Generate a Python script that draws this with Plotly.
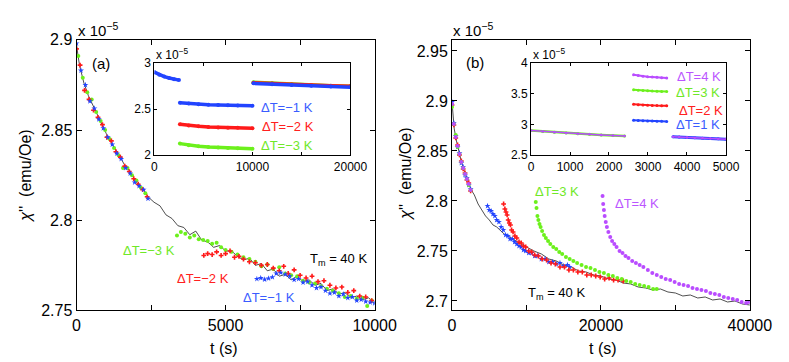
import plotly.graph_objects as go

W, H = 789, 362
FONT = "Liberation Sans, Arial, sans-serif"
BLUE, RED, GREEN, PURPLE = "#2244ff", "#ff1a1a", "#6cf01c", "#b94cff"
BLUE_T, RED_T, GREEN_T, PURPLE_T = "#3a5cff", "#ff2020", "#70e828", "#bb55ff"

# ---------------- Panel (a) main data (units of 1e-5 emu/Oe) ----------------
a_ref_t = [0, 100, 250, 400, 600, 800, 1000, 1200, 1400, 1600, 1800, 2000, 2200, 2400, 2600, 2800,
           3000, 3200, 3400, 3600, 3800, 4000, 4200, 4400, 4600, 4800, 5000, 5200, 5400, 5600, 5800,
           6000, 6200, 6400, 6600, 6800, 7000, 7200, 7400, 7600, 7800, 8000, 8200, 8400, 8600, 8800,
           9000, 9200, 9400, 9600, 9800, 10000]
a_ref_v = [2.897, 2.886, 2.876, 2.869, 2.862, 2.855, 2.848, 2.842, 2.837, 2.831, 2.827, 2.821, 2.818,
           2.813, 2.810, 2.808, 2.803, 2.801, 2.797, 2.796, 2.792, 2.794, 2.789, 2.788, 2.785, 2.786,
           2.783, 2.783, 2.780, 2.778, 2.779, 2.775, 2.776, 2.772, 2.773, 2.769, 2.770, 2.767, 2.769,
           2.766, 2.767, 2.764, 2.765, 2.761, 2.762, 2.759, 2.760, 2.757, 2.758, 2.756, 2.757, 2.754]

a_blue_t = [0, 150, 300, 450, 600, 750, 900, 1050, 1200, 1350, 1500, 1650, 1800, 1950, 2100, 2250, 2400,
            6050, 6180, 6310, 6440, 6570, 6700, 6850, 7000, 7150, 7300, 7450, 7600, 7750, 7900, 8050,
            8200, 8350, 8500, 8650, 8800, 8950, 9100, 9250, 9400, 9550, 9700, 9850, 10000]
a_blue_v = [2.898, 2.883, 2.875, 2.866, 2.862, 2.856, 2.851, 2.846, 2.842, 2.837, 2.834, 2.829, 2.826,
            2.821, 2.819, 2.817, 2.812,
            2.7675, 2.7680, 2.7672, 2.7678, 2.7685, 2.7705, 2.7710, 2.7700, 2.7690, 2.7670, 2.7675,
            2.7655, 2.7660, 2.7640, 2.7625, 2.7630, 2.7610, 2.7595, 2.7600, 2.7580, 2.7590, 2.7570,
            2.7575, 2.7555, 2.7560, 2.7550, 2.7545, 2.7540]

a_red_t = [0, 120, 270, 420, 570, 720, 870, 1020, 1170, 1320, 1470, 1620, 1770, 1920, 2070, 2220, 2370,
           4270, 4400, 4550, 4700, 4850, 5000, 5150, 5300, 5450, 5600, 5800, 6000, 6200, 6400, 6600,
           6800, 6950, 7100, 7300, 7500, 7700, 7900, 8100, 8300, 8500, 8700, 8900, 9100, 9300, 9500,
           9700, 9900]
a_red_v = [2.895, 2.886, 2.872, 2.867, 2.861, 2.857, 2.853, 2.846, 2.844, 2.838, 2.835, 2.830, 2.827,
           2.823, 2.820, 2.817, 2.813,
           2.7805, 2.7815, 2.7810, 2.7825, 2.7805, 2.7815, 2.7830, 2.7795, 2.7800, 2.7785, 2.7770,
           2.7765, 2.7750, 2.7755, 2.7735, 2.7720, 2.7745, 2.7705, 2.7725, 2.7695, 2.7680, 2.7690,
           2.7660, 2.7665, 2.7640, 2.7625, 2.7630, 2.7600, 2.7610, 2.7580, 2.7575, 2.7555]

a_green_t = [60, 210, 360, 510, 660, 810, 960, 1110, 1260, 1410, 1560, 1710, 1860, 2010, 2160, 2310,
             3370, 3500, 3650, 3800, 3950, 4100, 4250, 4400, 4550, 4700, 4850, 5000, 5200, 5400, 5600,
             5800, 6000, 6200, 6400, 6600, 6800, 7000, 7200, 7400, 7600, 7800, 8000, 8200, 8400, 8600,
             8800, 9000, 9200, 9400, 9600, 9750, 9900]
a_green_v = [2.891, 2.879, 2.871, 2.867, 2.860, 2.855, 2.850, 2.845, 2.840, 2.836, 2.829, 2.829, 2.825,
             2.822, 2.818, 2.815,
             2.7915, 2.7935, 2.7925, 2.7905, 2.7915, 2.7895, 2.7890, 2.7885, 2.7870, 2.7875, 2.7850,
             2.7835, 2.7825, 2.7810, 2.7795, 2.7785, 2.7770, 2.7745, 2.7755, 2.7730, 2.7740, 2.7705,
             2.7695, 2.7690, 2.7665, 2.7655, 2.7650, 2.7635, 2.7620, 2.7610, 2.7595, 2.7575, 2.7580,
             2.7565, 2.7570, 2.7525, 2.7555]

# ---------------- Panel (a) inset data ----------------
ia_blue1_t = [0, 500, 1000, 1500, 2000, 2500]
ia_blue1_v = [2.900, 2.872, 2.852, 2.837, 2.824, 2.814]
ia_mid_t = [2600, 3500, 4500, 5500, 6500, 7500, 8500, 10000]
ia_blue2_v = [2.569, 2.560, 2.553, 2.548, 2.544, 2.541, 2.539, 2.537]
ia_red2_v = [2.334, 2.322, 2.313, 2.306, 2.301, 2.298, 2.296, 2.293]
ia_green2_v = [2.125, 2.108, 2.096, 2.088, 2.082, 2.077, 2.074, 2.070]
ia_end_t = [10100, 12000, 14000, 16000, 18000, 20000]
ia_blue3_v = [2.779, 2.770, 2.761, 2.752, 2.745, 2.738]
ia_red3_v = [2.786, 2.776, 2.767, 2.759, 2.752, 2.747]
ia_green3_v = [2.790, 2.779, 2.769, 2.760, 2.753, 2.747]

# ---------------- Panel (b) main data ----------------
b_ref_t = [0, 300, 600, 900, 1200, 1600, 2000, 2500, 3000, 3500, 4000, 4500, 5000, 5500, 6000, 7000,
           8000, 9000, 10000, 11000, 12000, 13000, 14000, 15000, 16000, 17000, 18000, 19000, 20000,
           21000, 22000, 23000, 24000, 25000, 26000, 27000, 28000, 29000, 30000, 31000, 32000, 33000,
           34000, 35000, 36000, 37000, 38000, 39000, 40000]
b_ref_v = [2.899, 2.872, 2.860, 2.850, 2.841, 2.831, 2.822, 2.812, 2.806, 2.797, 2.791, 2.785, 2.781,
           2.776, 2.774, 2.767, 2.763, 2.758, 2.754, 2.750, 2.747, 2.742, 2.740, 2.736, 2.734, 2.730,
           2.729, 2.726, 2.725, 2.722, 2.721, 2.718, 2.717, 2.714, 2.713, 2.711, 2.712, 2.709, 2.708,
           2.705, 2.706, 2.703, 2.704, 2.701, 2.702, 2.699, 2.700, 2.697, 2.696]

b_first_t = [0, 250, 500, 750, 1000, 1250, 1500, 1750, 2000, 2250, 2500]
b_blue1_v = [2.899, 2.878, 2.865, 2.854, 2.848, 2.838, 2.834, 2.826, 2.823, 2.816, 2.812]
b_red1_v = [2.896, 2.876, 2.863, 2.856, 2.846, 2.840, 2.832, 2.828, 2.821, 2.818, 2.810]
b_green1_v = [2.894, 2.877, 2.866, 2.854, 2.847, 2.839, 2.833, 2.827, 2.822, 2.816, 2.811]
b_purple1_v = [2.897, 2.877, 2.864, 2.855, 2.847, 2.839, 2.833, 2.827, 2.822, 2.817, 2.811]

b_blue_t = [4770, 5000, 5250, 5500, 5750, 6000, 6300, 6600, 6900, 7200, 7500, 7800, 8100, 8400, 8700,
            9000, 9300, 9600, 9900, 10300, 10700, 11100, 11500, 12000, 12500, 13000, 13500, 14000,
            14500, 15000, 15500, 15800]
b_blue_v = [2.795, 2.791, 2.790, 2.787, 2.785, 2.781, 2.779, 2.774, 2.771, 2.766, 2.765, 2.762, 2.762,
            2.759, 2.757, 2.755, 2.754, 2.751, 2.750, 2.748, 2.748, 2.745, 2.745, 2.742, 2.742, 2.739,
            2.739, 2.737, 2.738, 2.735, 2.736, 2.734]

b_red_t = [6930, 7100, 7250, 7400, 7550, 7700, 7850, 8000, 8200, 8450, 8700, 9000, 9300, 9600, 9900,
           10300, 10700, 11100, 11600, 12100, 12700, 13300, 13900, 14500, 15100, 15700, 16300, 16900,
           17500, 18100, 18700, 19300, 19900, 20500, 21100, 21700, 22300, 23000]
b_red_v = [2.797, 2.792, 2.789, 2.786, 2.781, 2.778, 2.776, 2.771, 2.769, 2.765, 2.763, 2.759, 2.758,
           2.755, 2.754, 2.750, 2.749, 2.746, 2.745, 2.742, 2.741, 2.738, 2.737, 2.734, 2.734, 2.731,
           2.731, 2.729, 2.729, 2.726, 2.726, 2.725, 2.724, 2.722, 2.723, 2.721, 2.721, 2.720]

b_green_t = [11250, 11350, 11470, 11600, 11750, 11900, 12100, 12350, 12600, 12900, 13200, 13600, 14000,
             14400, 14800, 15300, 15800, 16300, 16800, 17400, 18000, 18600, 19200, 19800, 20400, 21000,
             21600, 22200, 22800, 23400, 24000, 24600, 25200, 25800, 26400, 27000, 27500]
b_green_v = [2.799, 2.793, 2.785, 2.781, 2.777, 2.774, 2.770, 2.766, 2.763, 2.760, 2.757, 2.754, 2.752,
             2.749, 2.747, 2.744, 2.742, 2.740, 2.738, 2.736, 2.734, 2.733, 2.731, 2.729, 2.728, 2.726,
             2.725, 2.723, 2.722, 2.720, 2.719, 2.717, 2.716, 2.715, 2.714, 2.712, 2.712]

b_purple_t = [20220, 20300, 20400, 20500, 20650, 20800, 21000, 21250, 21500, 21800, 22100, 22500, 22900,
              23300, 23700, 24200, 24700, 25200, 25700, 26300, 26900, 27500, 28100, 28700, 29300, 29900,
              30500, 31100, 31700, 32300, 32900, 33500, 34100, 34700, 35300, 35900, 36500, 37100, 37700,
              38300, 38900, 39500, 39900]
b_purple_v = [2.805, 2.797, 2.791, 2.785, 2.779, 2.774, 2.769, 2.764, 2.760, 2.757, 2.754, 2.750, 2.748,
              2.745, 2.743, 2.740, 2.738, 2.736, 2.734, 2.731, 2.728, 2.726, 2.724, 2.722, 2.721, 2.719,
              2.717, 2.716, 2.715, 2.713, 2.712, 2.711, 2.710, 2.708, 2.707, 2.706, 2.704, 2.703, 2.702,
              2.701, 2.699, 2.698, 2.699]

# ---------------- Panel (b) inset data ----------------
ib_first_t = [0, 300, 600, 900, 1200, 1500, 1800, 2100, 2400]
ib_first_v = [2.900, 2.886, 2.872, 2.860, 2.849, 2.838, 2.828, 2.819, 2.810]
ib_mid_t = [2630, 2750, 2870, 2990, 3110, 3230, 3350, 3480]
ib_purple2_v = [3.808, 3.795, 3.785, 3.777, 3.771, 3.766, 3.761, 3.757]
ib_green2_v = [3.566, 3.558, 3.552, 3.547, 3.543, 3.540, 3.537, 3.535]
ib_red2_v = [3.327, 3.321, 3.316, 3.312, 3.309, 3.306, 3.304, 3.302]
ib_blue2_v = [3.069, 3.064, 3.060, 3.057, 3.054, 3.052, 3.050, 3.048]
ib_end_t = [3640, 3800, 4000, 4200, 4400, 4600, 4800, 5000]
ib_end_v = [2.800, 2.794, 2.787, 2.781, 2.776, 2.771, 2.765, 2.760]

# tick values / labels
a_xticks = [0, 5000, 10000]
a_xminor = [2500, 7500]
a_yticks = [2.75, 2.8, 2.85, 2.9]
b_xticks = [0, 20000, 40000]
b_xminor = [10000, 30000]
b_yticks = [2.7, 2.75, 2.8, 2.85, 2.9, 2.95]
ia_xticks = [0, 10000, 20000]
ia_xminor = [5000, 15000]
ia_yticks = [2, 2.5, 3]
ib_xticks = [0, 1000, 2000, 3000, 4000, 5000]
ib_yticks = [2.5, 3, 3.5, 4]

fig = go.Figure()


def scat(x, y, color, ax, sym="circle", size=4):
    fig.add_trace(go.Scatter(x=x, y=y, mode="markers", xaxis=ax[0], yaxis=ax[1],
                             marker=dict(color=color, size=size, symbol=sym, line=dict(width=0)),
                             hoverinfo="skip"))


def band(x, y, color, ax, width=3.5, size=4):
    fig.add_trace(go.Scatter(x=x, y=y, mode="lines+markers", xaxis=ax[0], yaxis=ax[1],
                             line=dict(color=color, width=width),
                             marker=dict(color=color, size=size), hoverinfo="skip"))


A = ("x", "y")
B = ("x2", "y2")
IA = ("x3", "y3")
IB = ("x4", "y4")

# panel (a)
fig.add_trace(go.Scatter(x=a_ref_t, y=a_ref_v, mode="lines", xaxis="x", yaxis="y",
                         line=dict(color="#222222", width=0.8), hoverinfo="skip"))
scat(a_green_t, a_green_v, GREEN, A, "circle", 4)
scat(a_red_t, a_red_v, RED, A, "cross", 4)
scat(a_blue_t, a_blue_v, BLUE, A, "star", 4.5)

# panel (a) inset
band(ia_mid_t, ia_green2_v, GREEN, IA)
band(ia_mid_t, ia_red2_v, RED, IA)
band(ia_mid_t, ia_blue2_v, BLUE, IA)
band(ia_end_t, ia_green3_v, GREEN, IA)
band(ia_end_t, ia_red3_v, RED, IA)
band(ia_end_t, ia_blue3_v, BLUE, IA)
band(ia_blue1_t, ia_blue1_v, BLUE, IA)

# panel (b)
fig.add_trace(go.Scatter(x=b_ref_t, y=b_ref_v, mode="lines", xaxis="x2", yaxis="y2",
                         line=dict(color="#222222", width=0.8), hoverinfo="skip"))
scat(b_first_t, b_blue1_v, BLUE, B, "star", 4.5)
scat(b_first_t, b_red1_v, RED, B, "cross", 4)
scat(b_first_t, b_green1_v, GREEN, B, "circle", 4)
scat(b_first_t, b_purple1_v, PURPLE, B, "circle", 4)
scat(b_blue_t, b_blue_v, BLUE, B, "star", 4.5)
scat(b_red_t, b_red_v, RED, B, "cross", 4)
scat(b_green_t, b_green_v, GREEN, B, "circle", 4)
scat(b_purple_t, b_purple_v, PURPLE, B, "circle", 4)

# panel (b) inset
band(ib_mid_t, ib_blue2_v, BLUE, IB, 2, 3)
band(ib_mid_t, ib_red2_v, RED, IB, 2, 3)
band(ib_mid_t, ib_green2_v, GREEN, IB, 2, 3)
band(ib_mid_t, ib_purple2_v, PURPLE, IB, 2, 3)
band(ib_first_t, ib_first_v, GREEN, IB, 2.5, 3)
band(ib_first_t, ib_first_v, PURPLE, IB, 1.5, 2.5)
band(ib_end_t, ib_end_v, BLUE, IB, 3, 3)
band(ib_end_t, ib_end_v, PURPLE, IB, 1.5, 2.5)


def px(x):
    return x / W


def py(y):
    return 1 - y / H


def axis(domain, rng, tickvals, anchor, size=16, ticklen=5, minor=None):
    d = dict(domain=domain, range=rng, anchor=anchor, tickmode="array", tickvals=tickvals,
             ticktext=[f"{v:g}" for v in tickvals],
             showline=True, linecolor="black", linewidth=1, mirror="ticks",
             ticks="inside", ticklen=ticklen, tickcolor="black", tickwidth=1,
             showgrid=False, zeroline=False, tickfont=dict(family=FONT, size=size, color="black"))
    if minor:
        d["minor"] = dict(tickmode="array", tickvals=minor, ticks="inside", ticklen=ticklen,
                          tickcolor="black", tickwidth=1, showgrid=False)
    return d


ya_dom = [py(309), py(25)]
ins_dom = [py(146), py(49.3)]

fig.update_layout(
    width=W, height=H, margin=dict(l=0, r=0, t=0, b=0),
    paper_bgcolor="white", plot_bgcolor="white", showlegend=False,
    xaxis=axis([px(66.7), px(375)], [0, 10000], a_xticks, "y", minor=a_xminor),
    yaxis=axis(ya_dom, [2.75, 2.9], a_yticks, "x"),
    xaxis2=axis([px(455), px(763)], [0, 40000], b_xticks, "y2", minor=b_xminor),
    yaxis2=axis(ya_dom, [2.6905, 2.9611], b_yticks, "x2"),
    xaxis3=axis([px(147.3), px(350)], [0, 20000], ia_xticks, "y3", 12, 3, minor=ia_xminor),
    yaxis3=axis(ins_dom, [2, 3], ia_yticks, "x3", 12, 3),
    xaxis4=axis([px(536.7), px(738.3)], [0, 5000], ib_xticks, "y4", 12, 3),
    yaxis4=axis(ins_dom, [2.5, 4], ib_yticks, "x4", 12, 3),
)

ann = []


def text(s, x, y, color="black", size=13, xanchor="left", angle=0):
    ann.append(dict(text=s, x=px(x), y=py(y), xref="paper", yref="paper", showarrow=False,
                    xanchor=xanchor, yanchor="middle", textangle=angle,
                    font=dict(family=FONT, size=size, color=color)))


# scale labels
text("x 10<sup>−5</sup>", 66, 14, size=15)
text("x 10<sup>−5</sup>", 454, 14, size=15)
text("x 10<sup>−5</sup>", 147, 40, size=12)
text("x 10<sup>−5</sup>", 537, 40, size=12)
# axis titles
text("t (s)", 219, 349, size=16, xanchor="center")
text("t (s)", 611, 349, size=16, xanchor="center")
text("<i>χ</i>''  (emu/Oe)", 14, 168, size=16, xanchor="center", angle=-90)
text("<i>χ</i>''  (emu/Oe)", 407, 166, size=16, xanchor="center", angle=-90)
# panel labels
text("(a)", 81, 50, size=15)
text("(b)", 467, 49, size=15)
# panel (a) annotations
text("ΔT=−3 K", 113, 246, GREEN_T)
text("ΔT=−2 K", 169, 275, RED_T)
text("ΔT=−1 K", 237, 295, BLUE_T)
text("T<sub>m</sub> = 40 K", 306, 256)
# inset (a)
text("ΔT=−1 K", 255, 96, BLUE_T)
text("ΔT=−2 K", 256, 116, RED_T)
text("ΔT=−3 K", 255, 136, GREEN_T)
# panel (b)
text("ΔT=3 K", 539, 184, GREEN_T)
text("ΔT=4 K", 621, 197, PURPLE_T)
text("T<sub>m</sub> = 40 K", 532, 291)
# inset (b)
text("ΔT=4 K", 686, 63, PURPLE_T)
text("ΔT=3 K", 685, 80, GREEN_T)
text("ΔT=2 K", 688, 99, RED_T)
text("ΔT=1 K", 685, 114, BLUE_T)

fig.update_layout(annotations=ann)
fig.write_html("out.html")
